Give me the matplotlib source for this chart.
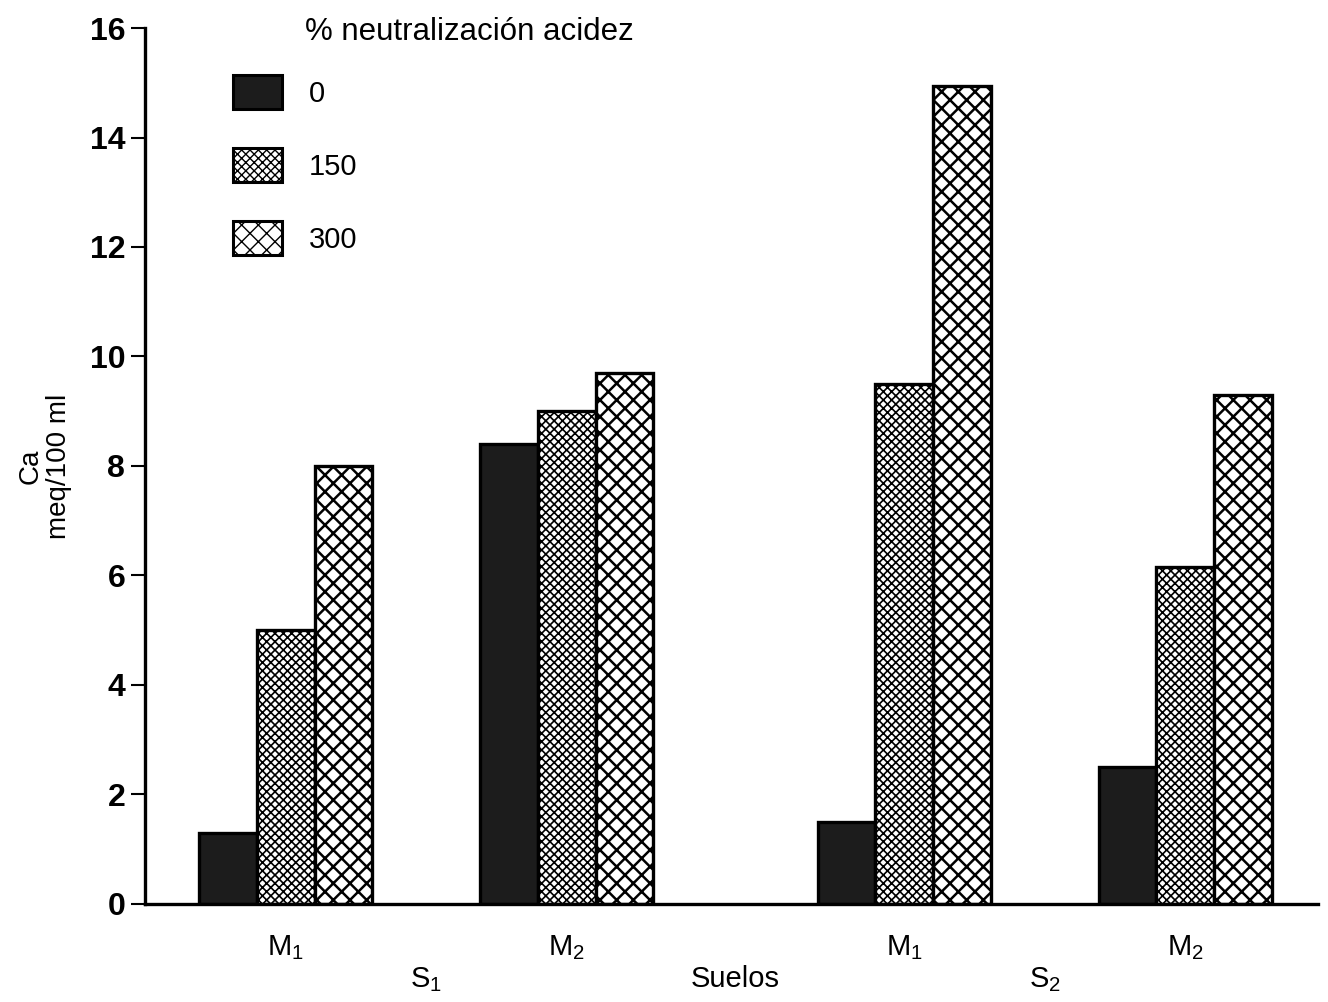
import matplotlib
matplotlib.use("Agg")
import matplotlib.pyplot as plt
import matplotlib.patches as mpatches
import numpy as np

plt.rcParams['font.family'] = ['Liberation Sans', 'DejaVu Sans']
plt.rcParams['mathtext.default'] = 'regular'

# Data
groups = ["M$_1$", "M$_2$", "M$_1$", "M$_2$"]
soils = ["S$_1$", "S$_2$"]
series_names = ["0", "150", "300"]
vals_0 = [1.3, 8.4, 1.5, 2.5]
vals_150 = [5.0, 9.0, 9.5, 6.15]
vals_300 = [8.0, 9.7, 14.95, 9.3]
yticks = [0, 2, 4, 6, 8, 10, 12, 14, 16]

centers = np.array([0.0, 1.0, 2.2, 3.2])
bw = 0.205
offsets = [-bw, 0.0, bw]
styles = [
    dict(facecolor="#1c1c1c", hatch=None, hlw=1.0),
    dict(facecolor="white", hatch="xxxx", hlw=1.2),
    dict(facecolor="white", hatch="xx", hlw=1.8),
]

fig = plt.figure(figsize=(13.28, 10.02), dpi=100)
ax = fig.add_axes([0.109, 0.098, 0.8835, 0.874])

for vals, off, st, name in zip([vals_0, vals_150, vals_300], offsets, styles, series_names):
    with plt.rc_context({'hatch.linewidth': st["hlw"]}):
        ax.bar(centers + off, vals, width=bw, edgecolor="black", linewidth=2.4,
               facecolor=st["facecolor"], hatch=st["hatch"], label=name)

ax.set_ylim(0, 16)
ax.set_xlim(-0.502, 3.673)
ax.set_yticks(yticks)
ax.set_yticklabels([str(t) for t in yticks], fontsize=23, fontweight='bold')
ax.tick_params(axis='y', direction='out', length=10, width=1.5, pad=4)
ax.set_xticks([])
for s in ["top", "right"]:
    ax.spines[s].set_visible(False)
ax.spines["left"].set_linewidth(2.4)
ax.spines["bottom"].set_linewidth(2.4)

ax.set_ylabel("Ca\nmeq/100 ml", fontsize=20, labelpad=13, linespacing=1.12)

# x group labels
for c, g in zip(centers, groups):
    ax.text(c, -0.8, g, ha="center", va="center", fontsize=21, clip_on=False)
soil_x = [(centers[0] + centers[1]) / 2, (centers[2] + centers[3]) / 2]
for sx, s in zip(soil_x, soils):
    ax.text(sx, -1.38, s, ha="center", va="center", fontsize=21, clip_on=False)
ax.text((centers[1] + centers[2]) / 2, -1.38, "Suelos", ha="center", va="center",
        fontsize=21, clip_on=False)

# legend
handles = []
for st in styles:
    with plt.rc_context({'hatch.linewidth': st["hlw"]}):
        handles.append(mpatches.Patch(facecolor=st["facecolor"], hatch=st["hatch"],
                                      edgecolor="black", linewidth=2.2))
leg = ax.legend(handles, series_names, loc="upper left",
                bbox_to_anchor=(0.075, 0.946), frameon=False, fontsize=21,
                handlelength=1.7, handleheight=1.4, labelspacing=1.35,
                handletextpad=0.9, borderpad=0, borderaxespad=0)
ax.text(0.137, 0.996, "% neutralización acidez", transform=ax.transAxes,
        fontsize=22.5, va="center", ha="left")

fig.savefig("out.png", dpi=100)
